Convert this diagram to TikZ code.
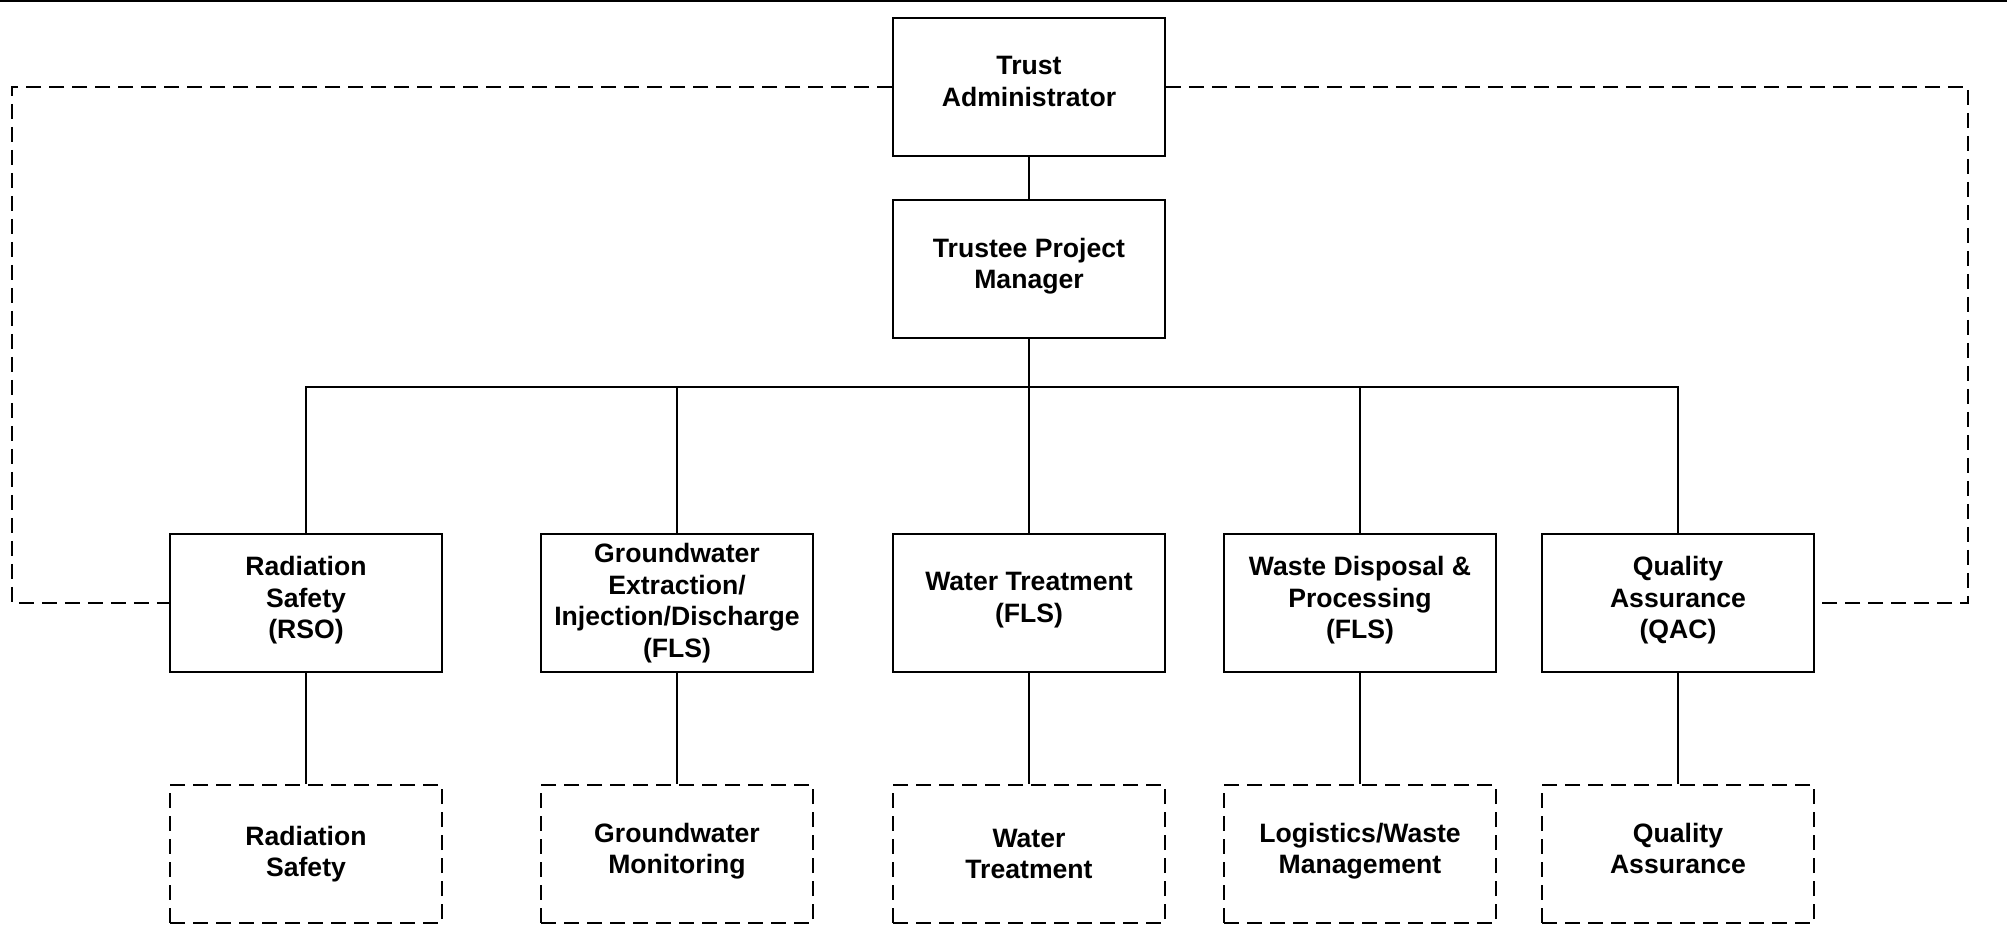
\documentclass[tikz,border=0pt]{standalone}
\usepackage{fontspec}
\setmainfont{Liberation Sans}
\usepackage{tikz}
\usetikzlibrary{positioning}
\tikzset{
  org/.style={x=0.5pt, y=-0.5pt, every node/.style={font=\fontsize{13.3}{15.8}\selectfont\bfseries, align=center}},
  unit/.style={draw, line width=0.9pt, minimum width=136pt, minimum height=69pt, inner sep=2pt},
  team/.style={unit, dash pattern=on 7.5pt off 4pt},
  lift/.style={text depth=5.5pt},
  link/.style={draw, line width=0.8pt},
  dotted link/.style={link, line width=0.9pt, dash pattern=on 7.5pt off 4pt}
}

\begin{document}
\begin{tikzpicture}[org]
\useasboundingbox (0,0) rectangle (2007,939);
\draw[line width=1.4pt] (0,1) -- (2007,1);
\node[unit, lift] (ta) at (1029,87) {Trust\\Administrator};
\node[unit, lift] (tpm) at (1029,269) {Trustee Project\\Manager};
\coordinate (bus) at (1029,387);
% functional leads
\node[unit, lift] (rso) at (306,603) {Radiation\\Safety\\(RSO)};
\node[unit] (gw) at (677,603) {Groundwater\\Extraction/\\Injection/Discharge\\(FLS)};
\node[unit, lift] (wt) at (1029,603) {Water Treatment\\(FLS)};
\node[unit, lift] (wd) at (1360,603) {Waste Disposal \&\\Processing\\(FLS)};
\node[unit, lift] (qa) at (1678,603) {Quality\\Assurance\\(QAC)};
% support teams
\node[team] (rso-t) at (306,854) {Radiation\\Safety};
\node[team, lift] (gw-t) at (677,854) {Groundwater\\Monitoring};
\node[team] (wt-t) at (1029,854) {Water\\Treatment};
\node[team, lift] (wd-t) at (1360,854) {Logistics/Waste\\Management};
\node[team, lift] (qa-t) at (1678,854) {Quality\\Assurance};
\coordinate (lc) at (12,603);
\coordinate (rc) at (1968,603);
\draw[link] (ta) -- (tpm);
\draw[link] (tpm) -- (bus);
\foreach \u in {rso,gw,wt,wd,qa} {
  \draw[link] (\u.north) |- (bus);
  \draw[link] (\u) -- (\u-t);
}
\draw[dotted link] (ta.west) -| (lc) -- (rso.west);
\draw[dotted link] (ta.east) -| (rc) -- (qa.east);
\end{tikzpicture}
\end{document}
